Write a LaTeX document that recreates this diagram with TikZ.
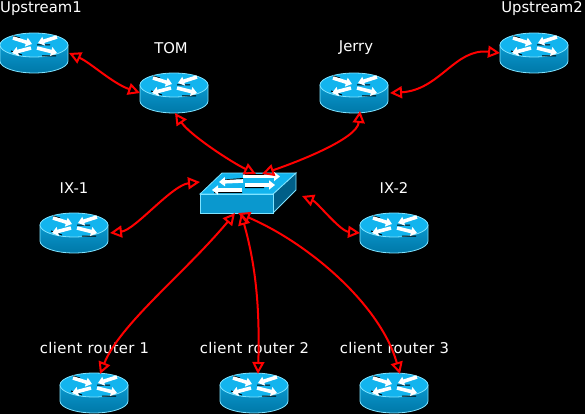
\documentclass[tikz,border=0pt]{standalone}
\usepackage{fontspec}
\setmainfont{DejaVu Sans}
\usetikzlibrary{arrows.meta}
\definecolor{topcyan}{HTML}{12B4EE}
\definecolor{sidecyan}{HTML}{0A98CE}
\definecolor{sidedark}{HTML}{0078A8}
\definecolor{edgecyan}{HTML}{7FE3FF}
\definecolor{darkside}{HTML}{005F88}
\tikzset{
	routerbox/.style={minimum width=68pt,minimum height=40pt,inner sep=0pt,outer sep=0pt},
	switchbox/.style={minimum width=96pt,minimum height=40pt,inner sep=0pt,outer sep=0pt},
	caption/.style={text=white,font=\fontsize{14.8}{16}\selectfont,inner sep=0pt},
	clientcaption/.style={caption,font=\fontsize{14.8}{16}\selectfont\addfontfeature{LetterSpace=2.5}},
	link/.style={red,line width=2pt,{Triangle[open,length=12pt,width=12pt]}-{Triangle[open,length=12pt,width=12pt]}},
	flow/.style={white,line width=3.6pt,-{Triangle[length=6pt,width=9pt]}},
	routericon/.pic={
		\draw[edgecyan,top color=sidecyan,bottom color=sidedark,line width=0.8pt] (-34,-8) -- (-34,8) arc[start angle=180,end angle=0,x radius=34,y radius=12] -- (34,-8) -- cycle;
		\draw[edgecyan,fill=topcyan,line width=0.8pt] (0,-8) ellipse[x radius=34,y radius=12];
		\draw[black,line width=1pt] (3,-8) -- (16,-8) (-23,-2) -- (-12,2) (8,3) -- (22,3) (-21,-17) -- (-14,-15);
		\draw[flow] (-21,-15) -- (-2,-9);
		\draw[flow] (23,-16) -- (4,-10);
		\draw[flow] (-3,-5) -- (-22,0);
		\draw[flow] (3,-5) -- (23,0);
	},
	switchicon/.pic={
		\draw[edgecyan,fill=darkside,line width=0.8pt] (25,1) -- (48,-20) -- (48,-3) -- (25,20) -- cycle;
		\draw[edgecyan,fill=topcyan,line width=0.8pt] (-26,-20) -- (48,-20) -- (25,1) -- (-48,1) -- cycle;
		\draw[edgecyan,fill=sidecyan,line width=0.8pt] (-48,1) rectangle (25,20);
		\draw[black,line width=1pt] (-5,-14.5) -- (-24,-13) (-3,-18.5) -- (16,-18.5) (-34,-0.5) -- (-6,-0.5) (-3,-5.5) -- (16,-5.5);
		\draw[flow] (-5,-12) -- (-29,-11);
		\draw[flow] (-5,-16.5) -- (32,-16.5);
		\draw[flow] (-3,-8) -- (27,-8);
		\draw[flow] (-6,-3) -- (-36,-3);
	}
}
\newcommand{\router}[3]{
	\node[routerbox] (#1) at (#2,#3) {};
	\pic at (#1) {routericon};
}
\begin{document}
\begin{tikzpicture}[x=1pt,y=-1pt]
	\fill[black] (0,0) rectangle (585,414);
	\useasboundingbox (0,0) rectangle (585,414);

	% routers
	\router{upstreamA}{34}{53}
	\router{tom}{174}{93}
	\router{jerry}{354}{93}
	\router{upstreamB}{534}{53}
	\router{ixA}{74}{233}
	\router{ixB}{394}{233}
	\router{clientA}{94}{393}
	\router{clientB}{254}{393}
	\router{clientC}{394}{393}

	\node[switchbox] (sw) at (248,193) {};
	\pic at (sw) {switchicon};

	% labels
	\node[caption,anchor=base west] (lupstreamA) at (0,13) {Upstream1};
	\node[caption] (ltom) at (171,48) {TOM};
	\node[caption] (ljerry) at (356,48) {Jerry};
	\node[caption,anchor=base east] (lupstreamB) at (583,13) {Upstream2};
	\node[caption] (lixA) at (74,188) {IX-1};
	\node[caption] (lixB) at (394,188) {IX-2};
	\node[clientcaption] (lclientA) at (94.5,348) {client router 1};
	\node[clientcaption] (lclientB) at (254.5,348) {client router 2};
	\node[clientcaption] (lclientC) at (394.5,348) {client router 3};

	% links
	\draw[link] ([xshift=1pt]upstreamA.east) .. controls +(22,10) and +(-28,-10) .. (tom.west);
	\draw[link] ([xshift=2pt]jerry.east) .. controls +(50,-3) and +(-45,-5) .. (upstreamB.west);
	\draw[link] ([xshift=1pt]tom.south) .. controls +(15,22) and +(-25,-12) .. ([xshift=8pt,yshift=-1pt]sw.north);
	\draw[link] ([xshift=6pt,yshift=2pt]jerry.south) .. controls +(-3,28) and +(35,-12) .. ([xshift=14pt,yshift=-1pt]sw.north);
	\draw[link] ([xshift=2pt]ixA.east) .. controls +(25,-3) and +(-28,3) .. ([yshift=11pt]sw.west);
	\draw[link] ([xshift=6pt,yshift=-3pt]sw.east) .. controls +(15,6) and +(-20,-2) .. (ixB.west);
	\draw[link] ([xshift=6pt,yshift=-1pt]clientA.north) .. controls +(20,-50) and +(-50,60) .. ([xshift=-13pt]sw.south);
	\draw[link] ([xshift=4pt,yshift=-1pt]clientB.north) .. controls +(2,-70) and +(14,50) .. ([xshift=-7pt]sw.south);
	\draw[link] ([xshift=6pt,yshift=-1pt]clientC.north) .. controls +(-20,-70) and +(70,30) .. ([xshift=-10pt]sw.south);
\end{tikzpicture}
\end{document}
